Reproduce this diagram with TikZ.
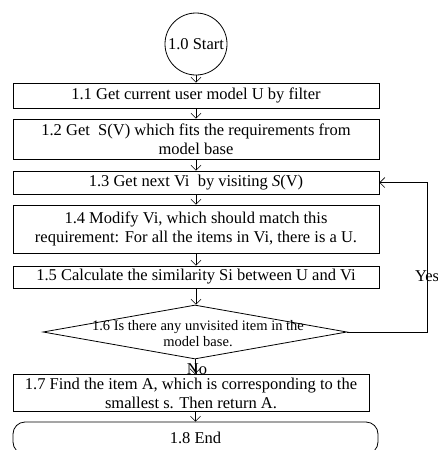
\documentclass[tikz,border=0pt]{standalone}
\usepackage{fontspec}
\setmainfont{Liberation Serif}
\usetikzlibrary{arrows.meta,shapes.geometric}
\begin{document}
\begin{tikzpicture}[x=1pt,y=-1pt,
  box/.style={draw,line width=0.8pt,inner sep=0pt,font=\fontsize{16.5}{19}\selectfont,align=center},
  lbl/.style={inner sep=0pt,font=\fontsize{16.5}{19}\selectfont},
  flow/.style={-{Straight Barb[length=5pt,width=10pt]},line width=0.6pt},
]
\useasboundingbox (0,0) rectangle (437,450);
\fill[white] (0,0) rectangle (437,450);
\node[draw,circle,line width=0.8pt,minimum size=62pt,inner sep=0pt,font=\fontsize{16.5}{19}\selectfont] (s) at (196,44) {1.0 Start};
\node[box,minimum width=366pt,minimum height=25pt] (b1) at (196,95.5) {1.1 Get current user model U by filter};
\node[box,minimum width=366pt,minimum height=40pt] (b2) at (196,139) {1.2 Get\ \ S(V) which fits the requirements from\\model base};
\node[box,minimum width=366pt,minimum height=23pt] (b3) at (196,182.5) {1.3 Get next Vi\ \ by visiting \textit{S}(V)};
\node[box,minimum width=366pt,minimum height=48pt] (b4) at (196,229) {1.4 Modify Vi, which should match this\\requirement: For all the items in Vi, there is a U.};
\node[box,minimum width=366pt,minimum height=22pt] (b5) at (196,277) {1.5 Calculate the similarity Si between U and Vi};
\node[draw,diamond,line width=0.8pt,minimum width=304pt,minimum height=54pt,aspect=5.63,inner sep=0pt] (d) at (195,332) {};
\node[inner sep=0pt,align=center,font=\fontsize{14.5}{16}\selectfont] (dt) at (198,334) {1.6 Is there any unvisited item in the\\model base.};
\node[box,minimum width=356pt,minimum height=37pt] (b7) at (191,393) {1.7 Find the item A, which is corresponding to the\\smallest s. Then return A.};
\node[box,rounded corners=12pt,minimum width=365pt,minimum height=32pt] (e) at (195.5,438) {1.8 End};
\node[lbl] (no) at (197,369) {No};
\node[lbl] (yes) at (427,276) {Yes};
\draw[flow] (s.south) -- (s.south |- b1.north);
\draw[flow] (b1.south) -- (b2.north);
\draw[flow] (b2.south) -- (b3.north);
\draw[flow] (b3.south) -- (b4.north);
\draw[flow] (b4.south) -- (b5.north);
\draw[flow] (b5.south) -- (b5.south |- d.north);
\draw[flow] (d.south) -- (d.south |- b7.north);
\draw[flow] (b7.south -| e.north) -- (e.north);
\draw[flow] (d.east) -- ++(80,0) |- (b3.east);
\end{tikzpicture}
\end{document}
